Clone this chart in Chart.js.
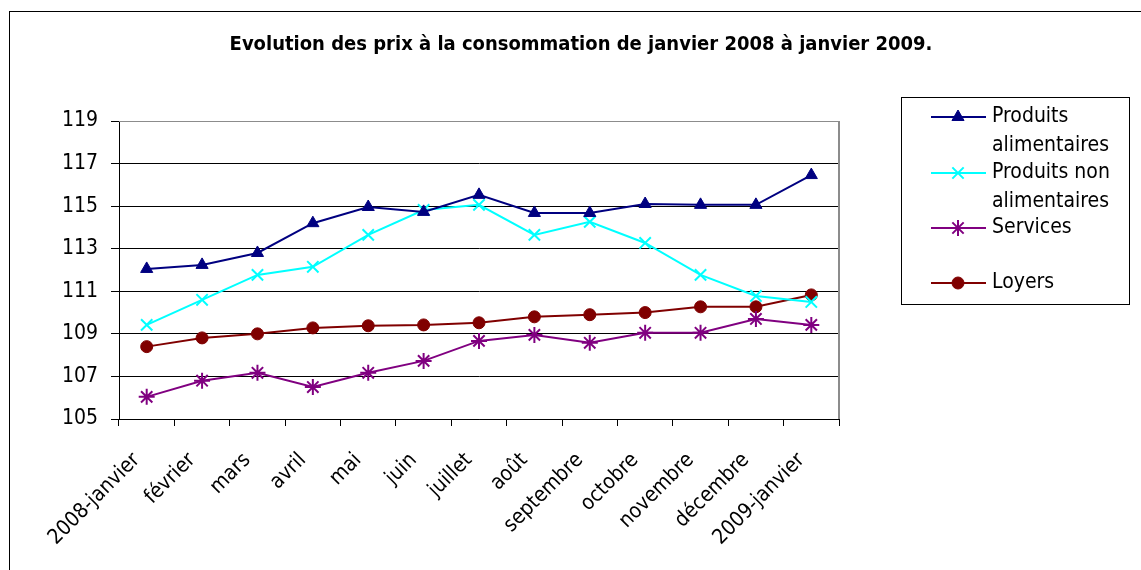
<!DOCTYPE html>
<html>
<head>
<meta charset="utf-8">
<script src="https://cdn.jsdelivr.net/npm/chart.js@4"></script>
<style>
  html, body { margin: 0; padding: 0; background: #fff; }
  #wrap { width: 1141px; height: 570px; position: relative; }
</style>
</head>
<body>
<div id="wrap"><canvas id="graph" width="1141" height="570"></canvas></div>
<script>
const months = ["2008-janvier", "février", "mars", "avril", "mai", "juin", "juillet",
  "août", "septembre", "octobre", "novembre", "décembre", "2009-janvier"];

const alimentaires = [112.05, 112.24, 112.8, 114.2, 114.96, 114.73, 115.53, 114.68, 114.68, 115.1, 115.06, 115.06, 116.46];
const nonAlimentaires = [109.42, 110.6, 111.77, 112.15, 113.65, 114.82, 115.06, 113.65, 114.26, 113.27, 111.77, 110.78, 110.5];
const services = [106.04, 106.8, 107.17, 106.5, 107.17, 107.73, 108.67, 108.95, 108.58, 109.05, 109.05, 109.7, 109.42];
const loyers = [108.4, 108.81, 109.0, 109.28, 109.38, 109.42, 109.52, 109.8, 109.9, 110.0, 110.27, 110.27, 110.83];

const yTicks = [105, 107, 109, 111, 113, 115, 117, 119];

const FONT = "'DejaVu Sans Condensed', 'Liberation Sans Narrow', sans-serif";
const titleText = "Evolution des prix à la consommation de janvier 2008 à janvier 2009.";

// legend lines (wrapped like the original)
const legendLines = [
  ["Produits", "alimentaires"],
  ["Produits non", "alimentaires"],
  ["Services"],
  ["Loyers"]
];

const ctx = document.getElementById("graph").getContext("2d");

const frame = {
  id: "frameTitleLegend",
  beforeDraw(chart) {
    const c = chart.ctx;
    c.save();
    c.fillStyle = "#fff";
    c.fillRect(0, 0, chart.width, chart.height);
    c.restore();
  },
  afterDraw(chart) {
    const c = chart.ctx;
    const a = chart.chartArea;
    c.save();
    // outer frame
    c.strokeStyle = "#000";
    c.lineWidth = 1;
    c.strokeRect(9.5, 11.5, 1140, 570);
    // plot border top / right
    c.strokeStyle = "#8c8c8c";
    c.lineWidth = 1;
    c.beginPath();
    c.moveTo(a.left, a.top + 0.5);
    c.lineTo(a.right, a.top + 0.5);
    c.stroke();
    c.lineWidth = 2;
    c.beginPath();
    c.moveTo(a.right, a.top);
    c.lineTo(a.right, a.bottom);
    c.stroke();

    // title
    c.fillStyle = "#000";
    c.font = "bold 20px " + FONT;
    c.textAlign = "center";
    c.textBaseline = "middle";
    c.fillText(titleText, 581, 45);

    // legend box
    c.strokeStyle = "#000";
    c.lineWidth = 1;
    c.strokeRect(901.5, 97.5, 228, 207);
    const rows = [117, 173, 228, 283];
    c.font = "21px " + FONT;
    c.textAlign = "left";
    chart.data.datasets.forEach((ds, i) => {
      const y = rows[i];
      c.strokeStyle = ds.borderColor;
      c.fillStyle = ds.borderColor;
      c.lineWidth = 2;
      c.beginPath();
      c.moveTo(931, y);
      c.lineTo(986, y);
      c.stroke();
      c.lineWidth = ds.pointBorderWidth || 1;
      Chart.helpers.drawPoint(c, {
        pointStyle: ds.pointStyle,
        radius: ds.pointRadius,
        borderWidth: ds.pointBorderWidth || 1
      }, 958, y);
      c.fillStyle = "#000";
      legendLines[i].forEach((t, j) => c.fillText(t, 992, y + j * 29));
    });
    c.restore();
  }
};

function pointOpts(style, color, radius, bw) {
  return {
    pointStyle: style,
    pointRadius: radius,
    pointHoverRadius: radius,
    pointBorderWidth: bw,
    pointBackgroundColor: color,
    pointBorderColor: color,
    backgroundColor: color,
    borderColor: color
  };
}

const chart = new Chart(ctx, {
  type: "line",
  data: {
    labels: months,
    datasets: [
      Object.assign({ label: "Produits alimentaires", data: alimentaires, borderWidth: 2, tension: 0 },
        pointOpts("triangle", "#000080", 7, 1)),
      Object.assign({ label: "Produits non alimentaires", data: nonAlimentaires, borderWidth: 2, tension: 0 },
        pointOpts("crossRot", "#00ffff", 8, 2)),
      Object.assign({ label: "Services", data: services, borderWidth: 2, tension: 0 },
        pointOpts("star", "#800080", 8, 2)),
      Object.assign({ label: "Loyers", data: loyers, borderWidth: 2, tension: 0 },
        pointOpts("circle", "#800000", 6, 1))
    ]
  },
  options: {
    responsive: false,
    animation: false,
    layout: { padding: { left: 54, right: 302, top: 121, bottom: 11 } },
    scales: {
      x: {
        offset: true,
        grid: { offset: true, drawOnChartArea: false, color: "#000", tickLength: 7, tickColor: "#000" },
        border: { color: "#000", width: 1 },
        ticks: {
          color: "#000",
          font: { family: FONT, size: 21 },
          maxRotation: 45,
          minRotation: 45,
          autoSkip: false,
          padding: 22,
          labelOffset: -10
        },
        afterFit(scale) { scale.height = 140; }
      },
      y: {
        min: 105,
        max: 119,
        afterBuildTicks(scale) { scale.ticks = yTicks.map(v => ({ value: v })); },
        grid: { color: "#000", tickLength: 8, tickColor: "#000" },
        border: { color: "#000", width: 1 },
        ticks: {
          color: "#000",
          font: { family: FONT, size: 21 },
          padding: 13
        },
        afterFit(scale) { scale.width = 65; }
      }
    },
    plugins: {
      legend: { display: false },
      title: { display: false },
      tooltip: { enabled: false }
    }
  },
  plugins: [frame]
});
</script>
</body>
</html>
